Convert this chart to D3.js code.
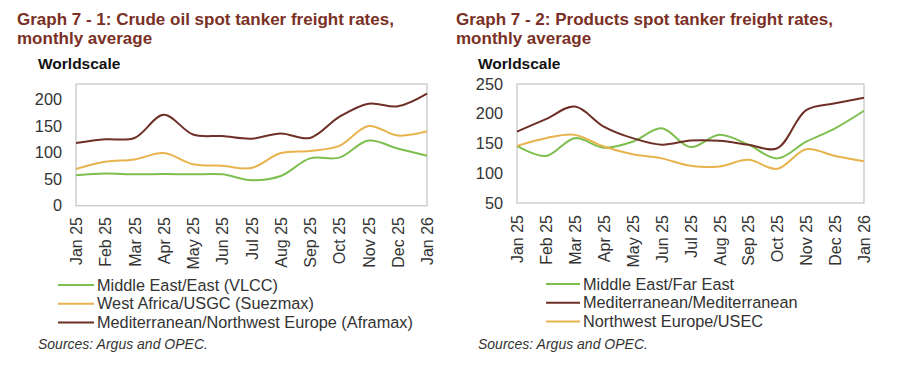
<!DOCTYPE html>
<html>
<head>
<meta charset="utf-8">
<script src="https://cdn.jsdelivr.net/npm/d3@7/dist/d3.min.js"></script>
<style>
  html, body { margin: 0; padding: 0; background: #fff; }
  svg { display: block; font-family: "Liberation Sans", Arial, sans-serif; }
</style>
</head>
<body>
<svg id="chart" width="899" height="366"></svg>
<script>
const months = ["Jan 25","Feb 25","Mar 25","Apr 25","May 25","Jun 25","Jul 25","Aug 25","Sep 25","Oct 25","Nov 25","Dec 25","Jan 26"];

// Graph 7-1 Crude
const crudeVLCC     = [57.5, 60.5, 59, 59.5, 59, 59, 48, 56, 89, 90.5, 122.5, 107.5, 94];
const crudeSuezmax  = [69, 82.5, 87, 99, 78, 75, 71, 99, 103, 112.5, 150, 132, 140];
const crudeAframax  = [118, 125, 127.5, 171, 134, 131, 126, 136, 127.5, 167, 192, 187, 211];
const crudeTicks    = [0, 50, 100, 150, 200];

// Graph 7-2 Products
const prodMEFE   = [146, 129, 159, 143, 153, 175.5, 144, 164.5, 148, 125, 153, 175.5, 205];
const prodMedMed = [170, 191, 212, 178.5, 159, 148, 155, 154.5, 148, 142, 206, 217.5, 227];
const prodNWEUS  = [146, 159, 164.5, 145, 132, 125, 112.5, 111.5, 122.5, 107.5, 140.5, 129, 120];
const prodTicks  = [50, 100, 150, 200, 250];

const green = "#7dbf4e", orange = "#e8b34c", brown = "#6e2f26";
const titleColor = "#7a3025", textColor = "#333333";

const svg = d3.select("#chart");

function drawChart(cfg) {
  const g = svg.append("g");
  g.append("text").attr("x", cfg.titleX).attr("y", 25)
    .attr("font-size", 17).attr("font-weight", "bold").attr("fill", titleColor)
    .text(cfg.title1);
  g.append("text").attr("x", cfg.titleX).attr("y", 44)
    .attr("font-size", 17).attr("font-weight", "bold").attr("fill", titleColor)
    .text(cfg.title2);
  g.append("text").attr("x", cfg.unitX).attr("y", 69)
    .attr("font-size", 15.5).attr("font-weight", "bold").attr("fill", "#111")
    .text("Worldscale");

  const x = d3.scalePoint().domain(months).range([cfg.left, cfg.right]);
  const y = d3.scaleLinear().domain(cfg.yDomain).range([cfg.bottom, cfg.top]);

  g.append("rect").attr("x", cfg.left).attr("y", cfg.top)
    .attr("width", cfg.right - cfg.left).attr("height", cfg.bottom - cfg.top)
    .attr("fill", "none").attr("stroke", "#c4c4c4").attr("stroke-width", 1.2);

  const ya = g.append("g").attr("transform", `translate(${cfg.left},0)`)
    .call(d3.axisLeft(y).tickValues(cfg.ticks).tickSize(0).tickPadding(cfg.yPad));
  ya.select(".domain").remove();
  ya.selectAll("text").attr("font-size", 16.3).attr("fill", textColor)
    .attr("font-family", "'Liberation Sans', Arial, sans-serif");

  const xa = g.append("g").attr("transform", `translate(0,${cfg.bottom})`)
    .call(d3.axisBottom(x).tickSize(0).tickPadding(0));
  xa.select(".domain").remove();
  xa.selectAll("text")
    .attr("font-size", 16).attr("fill", textColor)
    .attr("font-family", "'Liberation Sans', Arial, sans-serif")
    .attr("transform", "rotate(-90)")
    .attr("text-anchor", "end")
    .attr("x", -(cfg.xLabTop - cfg.bottom))
    .attr("y", 0)
    .attr("dy", "0.35em");

  const line = d3.line()
    .x((d, i) => x(months[i]))
    .y(d => y(d))
    .curve(d3.curveCatmullRom.alpha(0.5));

  cfg.series.forEach(s => {
    g.append("path").datum(s.values)
      .attr("d", line).attr("fill", "none")
      .attr("stroke", s.color).attr("stroke-width", 2)
      .attr("stroke-linejoin", "round");
  });

  cfg.series.forEach((s, i) => {
    const ly = cfg.legendY + i * 18.7;
    g.append("line").attr("x1", cfg.legX1).attr("x2", cfg.legX2)
      .attr("y1", ly).attr("y2", ly).attr("stroke", s.color).attr("stroke-width", 2);
    g.append("text").attr("x", cfg.legX2 + 3).attr("y", ly).attr("dy", "0.35em")
      .attr("font-size", 16.3).attr("fill", textColor).text(s.name);
  });

  g.append("text").attr("x", cfg.unitX).attr("y", 349)
    .attr("font-size", 14).attr("font-style", "italic").attr("fill", textColor)
    .text("Sources: Argus and OPEC.");
}

drawChart({
  title1: "Graph 7 - 1: Crude oil spot tanker freight rates,",
  title2: "monthly average",
  titleX: 17, unitX: 38,
  left: 76, right: 427, top: 84, bottom: 205.7,
  yDomain: [0, 229], ticks: crudeTicks, yPad: 14,
  xLabTop: 217,
  legendY: 285, legX1: 58, legX2: 94,
  series: [
    { name: "Middle East/East (VLCC)", values: crudeVLCC, color: green },
    { name: "West Africa/USGC (Suezmax)", values: crudeSuezmax, color: orange },
    { name: "Mediterranean/Northwest Europe (Aframax)", values: crudeAframax, color: brown }
  ]
});

drawChart({
  title1: "Graph 7 - 2: Products spot tanker freight rates,",
  title2: "monthly average",
  titleX: 456, unitX: 478,
  left: 517, right: 864, top: 84, bottom: 203,
  yDomain: [50, 250], ticks: prodTicks, yPad: 14,
  xLabTop: 215,
  legendY: 284, legX1: 546, legX2: 580,
  series: [
    { name: "Middle East/Far East", values: prodMEFE, color: green },
    { name: "Mediterranean/Mediterranean", values: prodMedMed, color: brown },
    { name: "Northwest Europe/USEC", values: prodNWEUS, color: orange }
  ]
});
</script>
</body>
</html>
